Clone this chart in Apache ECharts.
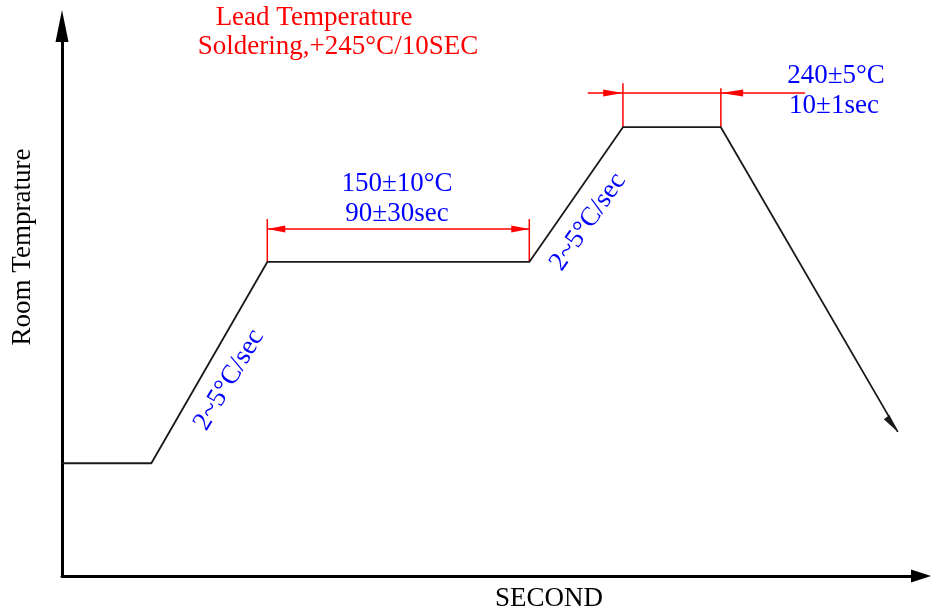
<!DOCTYPE html>
<html>
<head>
<meta charset="utf-8">
<title>Reflow profile</title>
<script src="https://cdn.jsdelivr.net/npm/echarts@6/dist/echarts.min.js"></script>
<style>
  html, body { margin: 0; padding: 0; background: #fff; }
  #profile { width: 931px; height: 615px; }
</style>
</head>
<body>
<div id="profile"></div>
<script>
// profile points, axis units (0-100 both ways, schematic)
const profileX = [0, 10.4, 23.9, 54.4, 65.3, 76.7, 97.3];
const profileY = [20.5, 20.5, 57.1, 57.1, 81.6, 81.6, 26.2];

// end of the cooling line: [tipX, tipY, tailX, tailY]
const coolArrow = [[97.3, 26.2, 96.0, 28.9]];

// red extension lines: [x, yFrom, yTo]
const extLines = [[23.9, 57.1, 64.9], [54.4, 57.1, 64.9], [65.3, 81.6, 89.6], [76.7, 81.6, 88.7]];
// red dimension lines: [xFrom, xTo, y]
const dimLines = [[23.9, 54.4, 63.1], [61.2, 86.5, 87.8]];
// red arrowheads: [tipX, tipY, tailX, tailY]
const dimArrows = [[23.9, 63.1, 26.0, 63.1], [54.4, 63.1, 52.3, 63.1], [65.3, 87.8, 63.0, 87.8], [76.7, 87.8, 79.3, 87.8]];

const FONT = "'Liberation Serif', 'Times New Roman', serif";

function arrowHead(params, api, color) {
  const tip = api.coord([api.value(0), api.value(1)]);
  const tail = api.coord([api.value(2), api.value(3)]);
  const dx = tip[0] - tail[0];
  const dy = tip[1] - tail[1];
  const len = Math.sqrt(dx * dx + dy * dy) || 1;
  const nx = -dy / len * 3.5;
  const ny = dx / len * 3.5;
  return {
    type: 'polygon',
    shape: { points: [tip, [tail[0] + nx, tail[1] + ny], [tail[0] - nx, tail[1] - ny]] },
    style: { fill: color, stroke: null },
  };
}

function label(text, x, y, color, rotateDeg) {
  return {
    type: 'text',
    x: x,
    y: y,
    rotation: (rotateDeg || 0) * Math.PI / 180,
    style: {
      text: text,
      fill: color,
      font: '27px ' + FONT,
      align: 'center',
      verticalAlign: 'middle',
    },
  };
}

const chart = echarts.init(document.getElementById('profile'));
const option = {
  backgroundColor: '#fff',
  animation: false,
  grid: { left: 62, right: 10, top: 26, bottom: 39 },
  xAxis: {
    type: 'value',
    min: 0,
    max: 100,
    axisLine: {
      show: true,
      symbol: ['none', 'triangle'],
      symbolSize: [13, 20],
      lineStyle: { color: '#000', width: 3 },
    },
    axisTick: { show: false },
    axisLabel: { show: false },
    splitLine: { show: false },
  },
  yAxis: {
    type: 'value',
    min: 0,
    max: 100,
    axisLine: {
      show: true,
      symbol: ['none', 'triangle'],
      symbolSize: [13, 32],
      lineStyle: { color: '#000', width: 3 },
    },
    axisTick: { show: false },
    axisLabel: { show: false },
    splitLine: { show: false },
  },
  series: [
    {
      name: 'profile',
      type: 'line',
      data: profileX.map((x, i) => [x, profileY[i]]),
      showSymbol: false,
      lineStyle: { color: '#1a1a1a', width: 1.8 },
      z: 3,
    },
    {
      name: 'coolArrow',
      type: 'custom',
      data: coolArrow,
      renderItem: (params, api) => arrowHead(params, api, '#1a1a1a'),
      z: 4,
    },
    {
      name: 'extLines',
      type: 'custom',
      data: extLines,
      renderItem: (params, api) => {
        const a = api.coord([api.value(0), api.value(1)]);
        const b = api.coord([api.value(0), api.value(2)]);
        return {
          type: 'line',
          shape: { x1: a[0], y1: a[1], x2: b[0], y2: b[1] },
          style: { stroke: '#ff0000', lineWidth: 1.5 },
        };
      },
      z: 2,
    },
    {
      name: 'dimLines',
      type: 'custom',
      data: dimLines,
      renderItem: (params, api) => {
        const a = api.coord([api.value(0), api.value(2)]);
        const b = api.coord([api.value(1), api.value(2)]);
        return {
          type: 'line',
          shape: { x1: a[0], y1: a[1], x2: b[0], y2: b[1] },
          style: { stroke: '#ff0000', lineWidth: 1.5 },
        };
      },
      z: 2,
    },
    {
      name: 'dimArrows',
      type: 'custom',
      data: dimArrows,
      renderItem: (params, api) => arrowHead(params, api, '#ff0000'),
      z: 2,
    },
  ],
  graphic: [
    label('Lead Temperature', 314, 18, '#ff0000'),
    label('Soldering,+245°C/10SEC', 338, 47, '#ff0000'),
    label('150±10°C', 397, 184, '#0000ff'),
    label('90±30sec', 397, 214, '#0000ff'),
    label('240±5°C', 836, 76, '#0000ff'),
    label('10±1sec', 834, 106, '#0000ff'),
    label('2~5°C/sec', 229, 380, '#0000ff', 59),
    label('2~5°C/sec', 588, 222, '#0000ff', 55),
    label('Room Temprature', 23, 247, '#000', 90),
    label('SECOND', 549, 599, '#000'),
  ],
};
chart.setOption(option);
window.addEventListener('resize', () => {
  chart.resize();
});
</script>
</body>
</html>
